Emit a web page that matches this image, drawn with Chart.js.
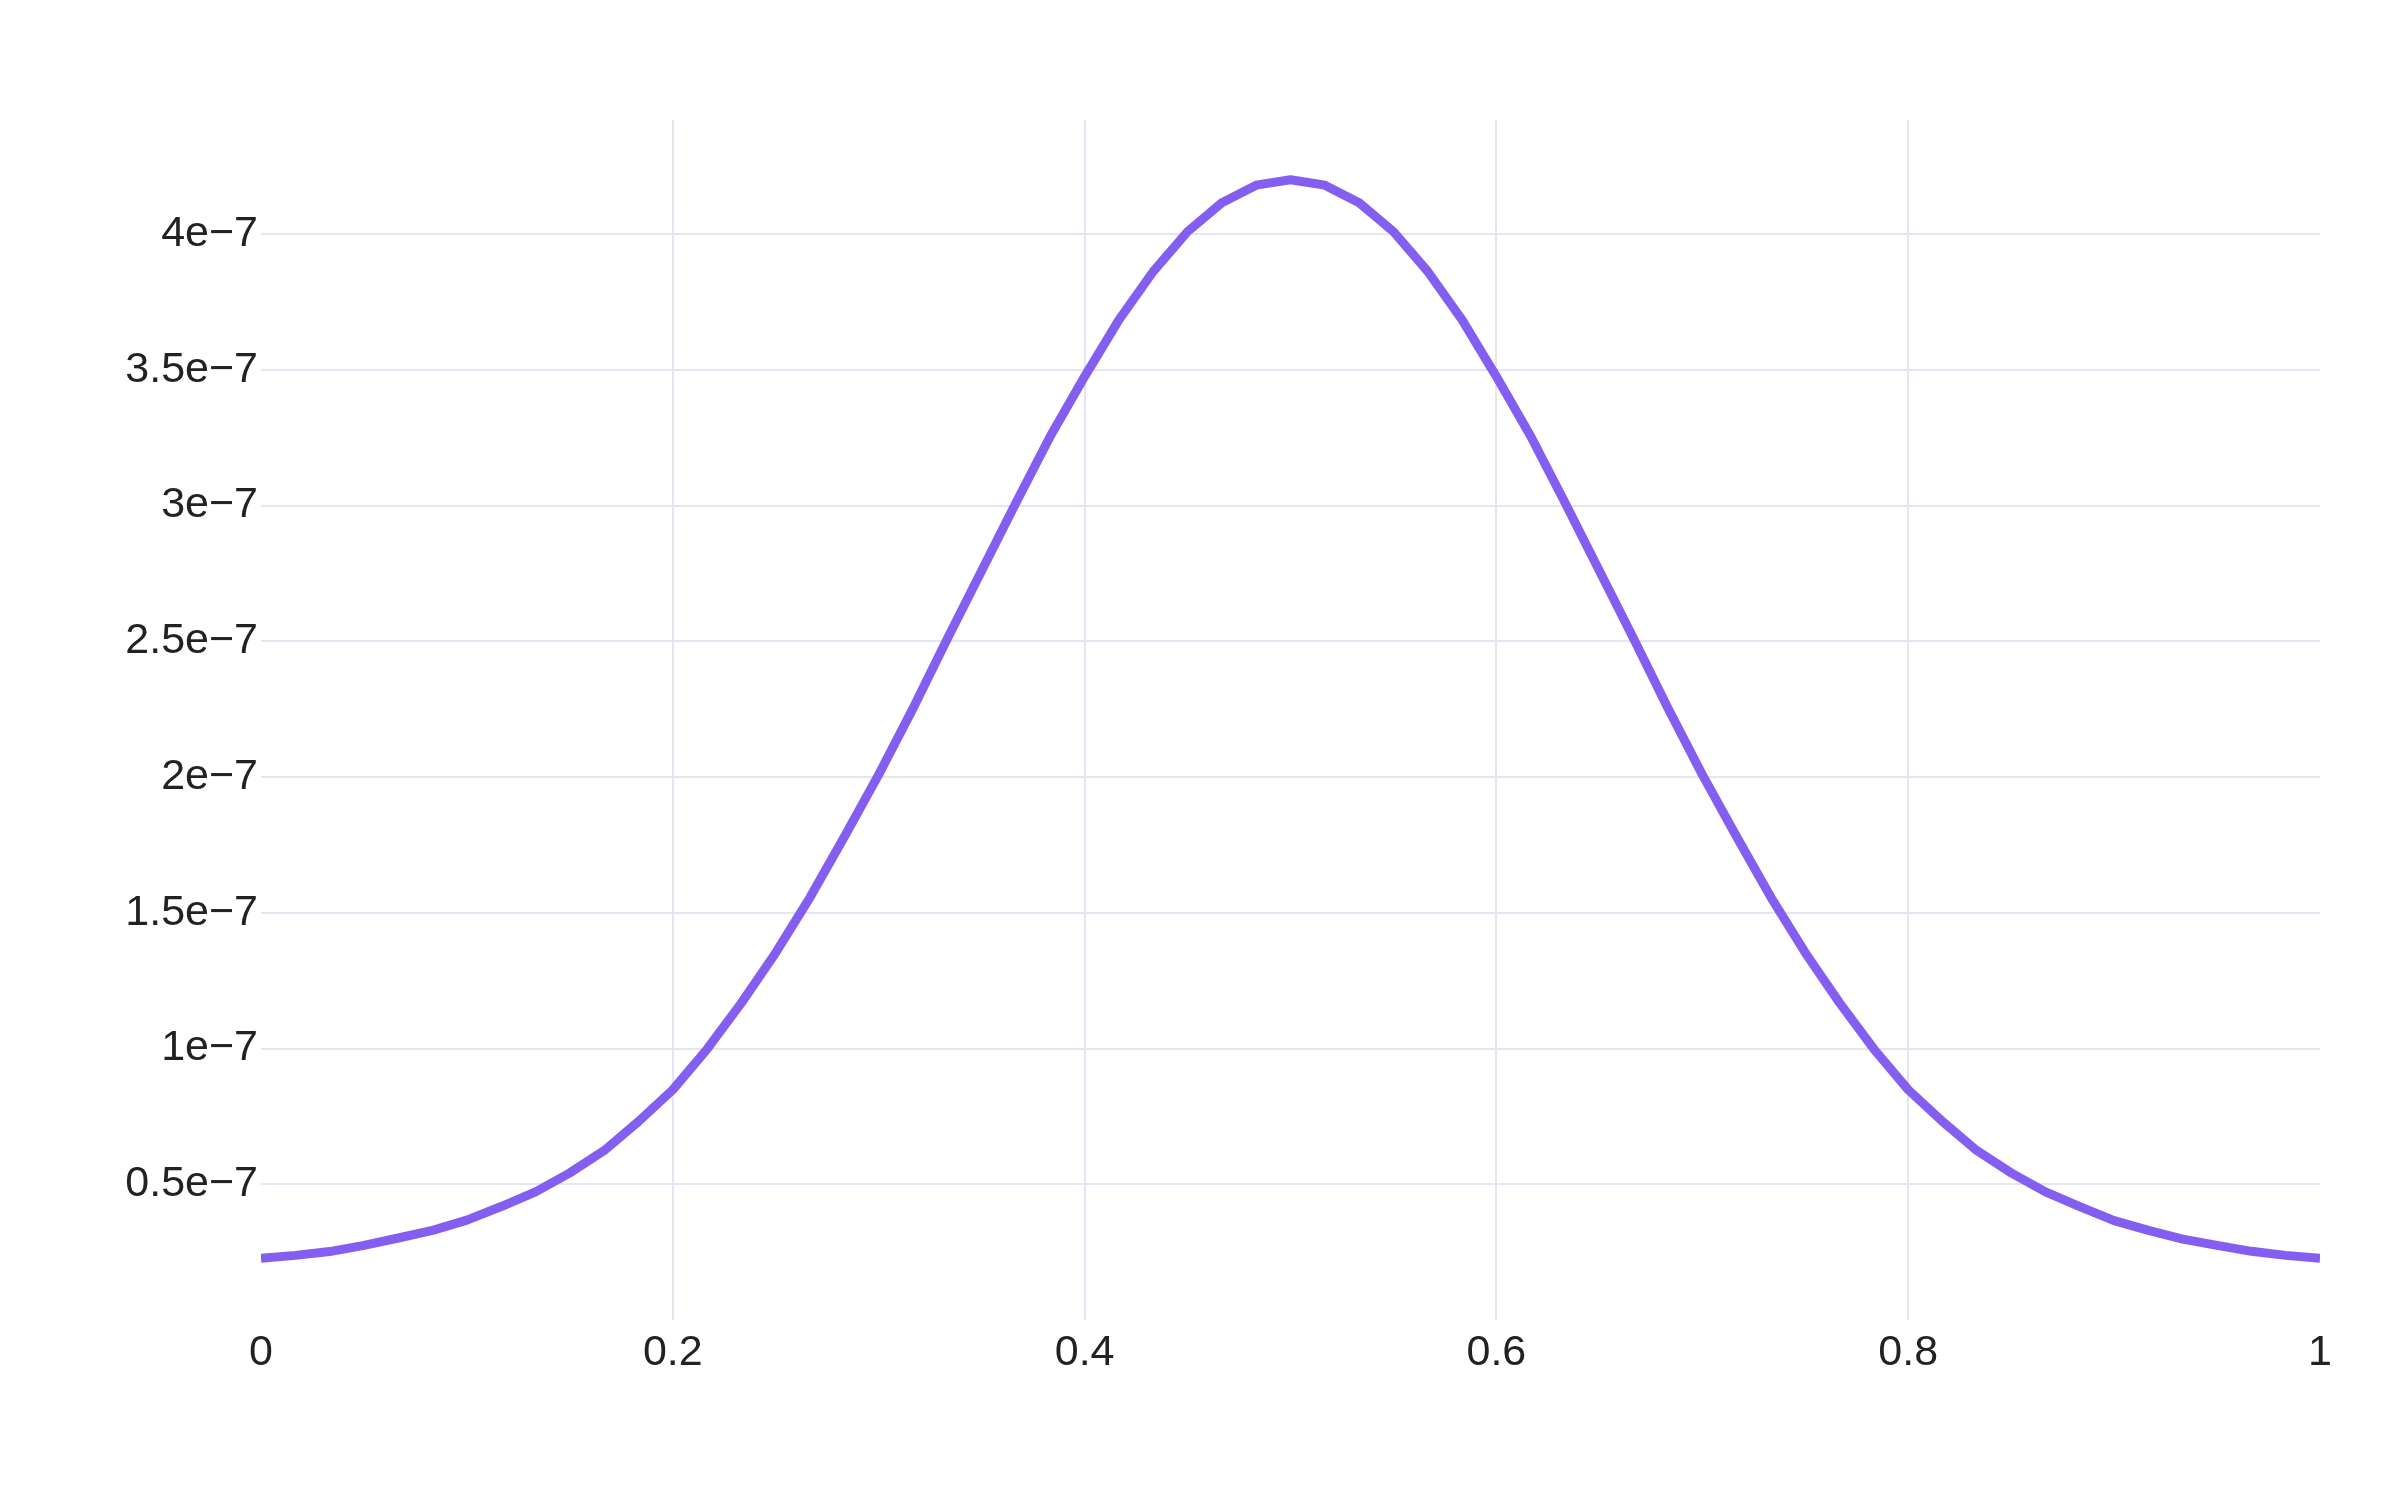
<!DOCTYPE html>
<html>
<head>
<meta charset="utf-8">
<script src="https://cdn.jsdelivr.net/npm/chart.js"></script>
<style>
  html, body { margin: 0; padding: 0; background: #ffffff; }
  #wrap { width: 2400px; height: 1500px; }
</style>
</head>
<body>
<div id="wrap"><canvas id="curveChart" width="2400" height="1500"></canvas></div>
<script>
const densities = [
  0.227e-7, 0.238e-7, 0.252e-7, 0.275e-7, 0.302e-7, 0.330e-7, 0.368e-7, 0.418e-7,
  0.472e-7, 0.542e-7, 0.624e-7, 0.731e-7, 0.848e-7, 0.998e-7, 1.168e-7, 1.353e-7,
  1.557e-7, 1.780e-7, 2.009e-7, 2.253e-7, 2.509e-7, 2.760e-7, 3.010e-7, 3.255e-7,
  3.475e-7, 3.684e-7, 3.862e-7, 4.009e-7, 4.115e-7, 4.180e-7, 4.200e-7, 4.180e-7,
  4.115e-7, 4.009e-7, 3.862e-7, 3.684e-7, 3.475e-7, 3.255e-7, 3.010e-7, 2.760e-7,
  2.509e-7, 2.253e-7, 2.009e-7, 1.780e-7, 1.557e-7, 1.353e-7, 1.168e-7, 0.998e-7,
  0.848e-7, 0.731e-7, 0.624e-7, 0.542e-7, 0.472e-7, 0.418e-7, 0.366e-7, 0.330e-7,
  0.298e-7, 0.275e-7, 0.253e-7, 0.238e-7, 0.227e-7
];
const xStep = 1 / 60;

const xTickValues = [0, 0.2, 0.4, 0.6, 0.8, 1];
const xTickLabels = ['0', '0.2', '0.4', '0.6', '0.8', '1'];
const yTickValues = [0.5e-7, 1e-7, 1.5e-7, 2e-7, 2.5e-7, 3e-7, 3.5e-7, 4e-7];
const yTickLabels = ['0.5e\u22127', '1e\u22127', '1.5e\u22127', '2e\u22127', '2.5e\u22127', '3e\u22127', '3.5e\u22127', '4e\u22127'];

document.addEventListener('DOMContentLoaded', function() {
    const points = densities.map((v, i) => ({ x: i * xStep, y: v }));
    const gridColor = '#e4e4f3';
    const tickFont = { family: '"Liberation Sans", Arial, sans-serif', size: 43 };

    new Chart(document.getElementById('curveChart').getContext('2d'), {
        type: 'line',
        data: {
            datasets: [{
                data: points,
                borderColor: '#845ef0',
                borderWidth: 9,
                pointRadius: 0,
                tension: 0,
                fill: false,
                borderJoinStyle: 'round'
            }]
        },
        options: {
            responsive: false,
            animation: false,
            devicePixelRatio: 1,
            layout: { padding: { top: 120, right: 80, left: 0, bottom: 0 } },
            plugins: { legend: { display: false }, tooltip: { enabled: false } },
            scales: {
                x: {
                    type: 'linear',
                    min: 0,
                    max: 1,
                    afterBuildTicks: axis => { axis.ticks = xTickValues.map(v => ({ value: v })); },
                    afterFit: axis => { axis.height = 180; },
                    border: { display: false },
                    grid: {
                        drawTicks: false,
                        lineWidth: 2,
                        color: ctx => (ctx.tick && (ctx.tick.value === 0 || ctx.tick.value === 1)) ? 'rgba(0,0,0,0)' : gridColor
                    },
                    ticks: {
                        color: '#222',
                        font: tickFont,
                        padding: 7,
                        maxRotation: 0,
                        callback: (value) => xTickLabels[xTickValues.indexOf(value)]
                    }
                },
                y: {
                    type: 'linear',
                    min: 0,
                    max: 4.42e-7,
                    afterBuildTicks: axis => { axis.ticks = yTickValues.map(v => ({ value: v })); },
                    afterFit: axis => { axis.width = 261; },
                    border: { display: false },
                    grid: { drawTicks: false, lineWidth: 2, color: gridColor },
                    ticks: {
                        color: '#222',
                        font: tickFont,
                        padding: 3,
                        callback: (value) => yTickLabels[yTickValues.indexOf(value)]
                    }
                }
            }
        }
    });
});
</script>
</body>
</html>
